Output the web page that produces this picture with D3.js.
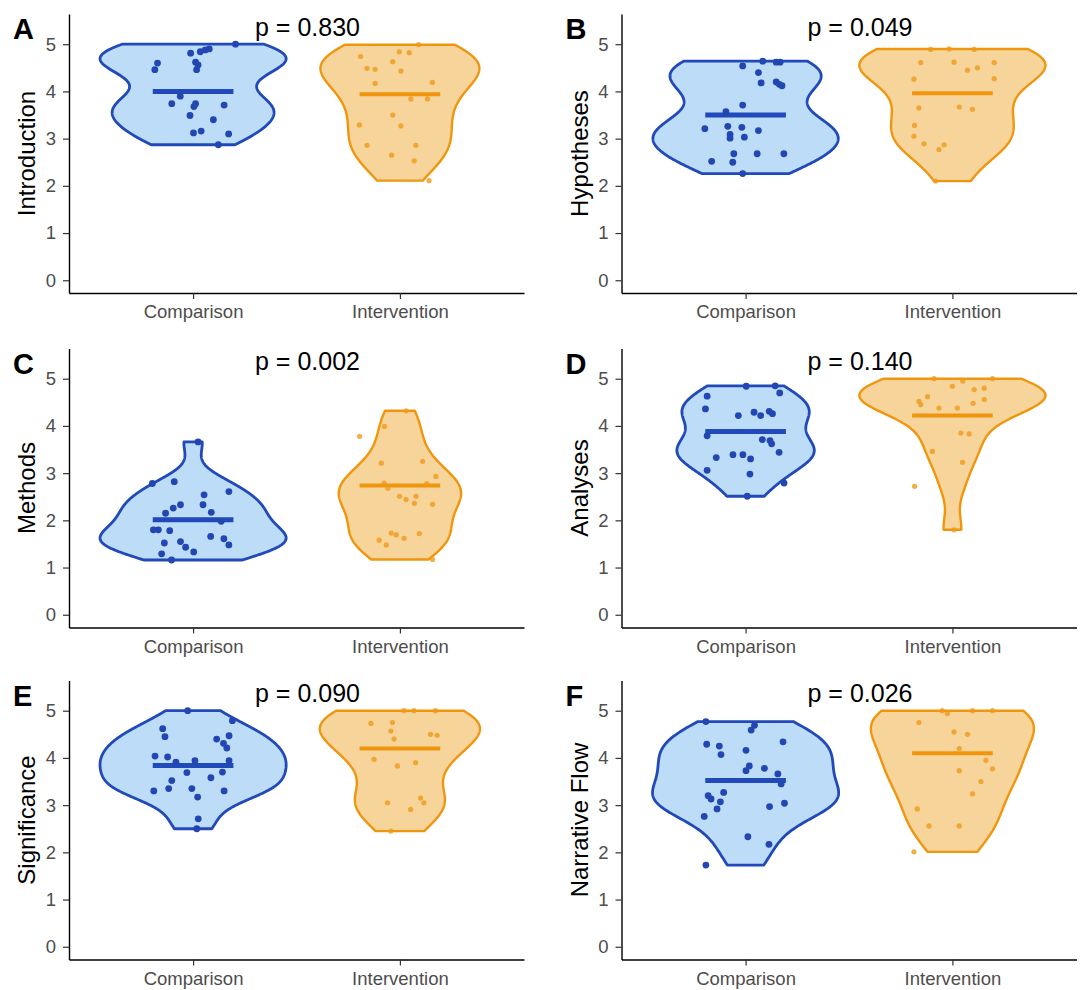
<!DOCTYPE html>
<html>
<head>
<meta charset="utf-8">
<script src="https://cdn.jsdelivr.net/npm/d3@7"></script>
<style>
  body { margin: 0; background: #fff; }
  svg { display: block; font-family: 'Liberation Sans', Arial, sans-serif; }
</style>
</head>
<body>
<svg id="chart" width="1084" height="990"></svg>
<script>
// groups and panels
const groups = ['Comparison', 'Intervention']
const panelLetters = ['A', 'B', 'C', 'D', 'E', 'F']
const measures = ['Introduction', 'Hypotheses', 'Methods', 'Analyses', 'Significance', 'Narrative Flow']
const pValues = ['0.830', '0.049', '0.002', '0.140', '0.090', '0.026']
const yTicks = [0, 1, 2, 3, 4, 5]
const scoreMax = 5
// horizontal bar per panel: [Comparison, Intervention]
const barValues = [[4.00, 3.94], [3.50, 3.96], [2.01, 2.74], [3.88, 4.22], [3.84, 4.20], [3.52, 4.10]]

// points: [horizontal jitter (in category steps), score]
const introComparison = [[-0.012, 4.81], [0.035, 4.84], [0.059, 4.88], [0.078, 4.90], [0.205, 5.00], [-0.172, 4.60], [-0.185, 4.46], [0.012, 4.62], [0.024, 4.56], [0.017, 4.46], [-0.062, 3.90], [-0.103, 3.74], [0.012, 3.74], [0.004, 3.68], [0.150, 3.71], [-0.015, 3.49], [0.098, 3.40], [0.002, 3.12], [0.039, 3.16], [0.172, 3.10], [0.122, 2.87]]
const introIntervention = [[0.09, 4.99], [-0.19, 4.74], [-0.003, 4.84], [0.045, 4.82], [-0.159, 4.49], [-0.12, 4.47], [-0.035, 4.63], [0.005, 4.43], [-0.12, 4.17], [0.157, 4.19], [0.053, 3.84], [0.133, 3.84], [-0.035, 3.50], [-0.196, 3.29], [0.005, 3.27], [-0.159, 2.86], [0.077, 2.86], [-0.04, 2.65], [0.069, 2.53], [0.141, 2.11]]
const hypoComparison = [[-0.014, 4.54], [0.083, 4.64], [0.148, 4.62], [0.167, 4.62], [0.062, 4.40], [0.075, 4.18], [0.148, 4.20], [0.163, 4.15], [0.176, 4.12], [-0.014, 3.71], [-0.095, 3.57], [-0.197, 3.21], [-0.086, 3.26], [-0.018, 3.24], [0.062, 3.17], [-0.075, 3.09], [-0.075, 3.01], [-0.006, 3.03], [-0.164, 2.52], [-0.062, 2.50], [-0.057, 2.68], [0.056, 2.68], [0.185, 2.68], [-0.014, 2.26]]
const hypoIntervention = [[-0.153, 4.61], [0.008, 4.62], [0.073, 4.45], [0.121, 4.50], [0.202, 4.61], [-0.186, 4.26], [0.202, 4.27], [-0.162, 3.65], [0.033, 3.67], [0.097, 3.62], [-0.183, 3.28], [-0.186, 3.05], [-0.137, 2.89], [-0.065, 2.77], [-0.040, 2.87], [-0.105, 4.89], [-0.016, 4.90], [0.105, 4.89], [-0.081, 2.10]]
const methodsComparison = [[0.024, 3.66], [-0.197, 2.78], [-0.091, 2.82], [0.173, 2.61], [0.053, 2.54], [0.048, 2.33], [-0.096, 2.26], [-0.061, 2.33], [-0.133, 2.15], [0.088, 2.17], [-0.192, 1.80], [-0.168, 1.80], [-0.113, 1.78], [0.136, 1.98], [0.085, 1.66], [0.149, 1.61], [-0.139, 1.52], [-0.061, 1.55], [-0.036, 1.43], [0.173, 1.48], [0.003, 1.33], [-0.152, 1.29], [-0.104, 1.16]]
const methodsIntervention = [[0.03, 4.32], [-0.075, 3.99], [-0.195, 3.78], [-0.090, 3.21], [0.110, 3.25], [0.174, 2.93], [-0.076, 2.79], [-0.058, 2.68], [0.13, 2.78], [-0.002, 2.51], [0.030, 2.44], [0.078, 2.51], [0.070, 2.36], [0.158, 2.34], [-0.042, 1.73], [-0.018, 1.69], [0.094, 1.72], [0.02, 1.62], [-0.10, 1.58], [-0.066, 1.48], [0.158, 1.17]]
const analysesComparison = [[-0.186, 4.63], [-0.194, 4.36], [0.003, 4.84], [0.143, 4.85], [0.165, 4.70], [-0.035, 4.22], [0.041, 4.29], [0.073, 4.22], [0.114, 4.31], [0.130, 4.26], [-0.186, 3.79], [0.081, 3.71], [0.118, 3.69], [0.126, 3.62], [0.162, 3.44], [-0.142, 3.33], [-0.061, 3.39], [-0.013, 3.39], [0.024, 3.30], [-0.186, 3.06], [0.021, 2.98], [0.186, 2.79], [0.008, 2.51]]
const analysesIntervention = [[-0.089, 5.00], [0.194, 5.00], [0.000, 4.84], [0.105, 4.77], [0.154, 4.80], [-0.162, 4.52], [-0.153, 4.45], [-0.065, 4.38], [0.024, 4.38], [0.154, 4.56], [0.05, 4.95], [-0.12, 4.62], [0.10, 4.48], [0.041, 3.85], [0.081, 3.83], [-0.097, 3.46], [0.049, 3.23], [-0.183, 2.72], [0.008, 1.80]]
const signifComparison = [[-0.026, 5.00], [0.190, 4.79], [-0.147, 4.62], [-0.136, 4.45], [0.114, 4.40], [0.174, 4.47], [0.147, 4.31], [0.163, 4.21], [-0.184, 4.04], [-0.123, 4.02], [-0.083, 3.91], [0.009, 3.94], [0.174, 3.94], [-0.030, 3.69], [0.086, 3.58], [0.142, 3.70], [-0.103, 3.52], [-0.190, 3.30], [-0.118, 3.35], [-0.006, 3.35], [0.150, 3.30], [0.022, 3.17], [0.025, 2.71], [0.018, 2.50]]
const signifIntervention = [[0.020, 5.00], [0.068, 5.00], [0.172, 5.00], [-0.140, 4.73], [-0.036, 4.75], [-0.044, 4.57], [-0.028, 4.40], [0.148, 4.50], [0.180, 4.48], [-0.125, 3.97], [-0.012, 3.83], [0.076, 3.90], [-0.060, 3.05], [0.052, 2.91], [0.116, 3.05], [0.10, 3.15], [-0.044, 2.45]]
const flowComparison = [[-0.192, 1.73], [0.011, 2.33], [0.113, 2.17], [-0.200, 2.76], [-0.138, 2.92], [-0.122, 3.07], [-0.181, 3.20], [-0.167, 3.13], [-0.106, 3.27], [0.116, 2.97], [0.188, 3.04], [0.002, 3.73], [0.018, 3.83], [0.091, 3.78], [0.156, 3.66], [0.172, 3.45], [0.002, 4.16], [-0.127, 4.25], [-0.119, 4.07], [-0.188, 4.29], [0.181, 4.34], [0.027, 4.59], [0.043, 4.69], [-0.192, 4.77]]
const flowIntervention = [[-0.049, 5.00], [0.097, 5.00], [0.194, 5.00], [-0.024, 4.94], [-0.162, 4.75], [0.008, 4.55], [0.073, 4.50], [0.033, 4.20], [0.162, 3.95], [0.194, 3.77], [0.033, 3.73], [0.138, 3.50], [0.097, 3.24], [-0.170, 2.92], [-0.113, 2.56], [0.033, 2.56], [-0.186, 2.01]]

const panelPoints = [
  [introComparison, introIntervention],
  [hypoComparison, hypoIntervention],
  [methodsComparison, methodsIntervention],
  [analysesComparison, analysesIntervention],
  [signifComparison, signifIntervention],
  [flowComparison, flowIntervention]
]

// layout
const colX0 = [69, 621.5]
const rowBottom = [293, 627.5, 959.5]
const plotW = 455
const plotH = 279
const styles = {
  Comparison: { stroke: '#2149b9', fill: '#bcdcf8', dot: '#2247b2', r: 3.4, barW: 5, lineW: 2.8 },
  Intervention: { stroke: '#f0960e', fill: '#f6d49a', dot: '#f09a1a', r: 2.6, barW: 4, lineW: 2.4 }
}

// gaussian kernel density, bandwidth like R's bw.nrd0
function bwNrd0 (values) {
  const s = values.slice().sort(d3.ascending)
  const sd = d3.deviation(s)
  const iqr = d3.quantile(s, 0.75) - d3.quantile(s, 0.25)
  const lo = Math.min(sd, iqr / 1.34) || sd
  return 0.9 * lo * Math.pow(s.length, -0.2)
}
function density (values) {
  const bw = bwNrd0(values)
  const lo = d3.min(values)
  const hi = Math.min(d3.max(values), scoreMax)
  return d3.range(200).map(i => {
    const v = lo + (hi - lo) * i / 199
    const d = d3.mean(values, s => Math.exp(-0.5 * ((v - s) / bw) ** 2)) / (bw * Math.sqrt(2 * Math.PI))
    return [v, d]
  })
}

const svg = d3.select('#chart')

panelLetters.forEach((letter, i) => {
  const col = i % 2
  const row = Math.floor(i / 2)
  const x0 = colX0[col]
  const bottom = rowBottom[row]
  const top = bottom - plotH
  const x = d3.scalePoint().domain(groups).range([x0, x0 + plotW]).padding(0.6)
  const y = d3.scaleLinear().domain([-0.27, 5.64]).range([bottom, top])
  const step = x.step()
  const g = svg.append('g').attr('class', 'panel')

  // violins
  const dens = panelPoints[i].map(pts => density(pts.map(p => p[1])))
  const maxD = d3.max(dens, ds => d3.max(ds, d => d[1]))
  const w = d3.scaleLinear().domain([0, maxD]).range([0, 0.45 * step])
  groups.forEach((grp, k) => {
    const cx = x(grp)
    const st = styles[grp]
    const area = d3.area()
      .y(d => y(d[0]))
      .x0(d => cx - w(d[1]))
      .x1(d => cx + w(d[1]))
      .curve(d3.curveLinear)
    g.append('path')
      .datum(dens[k])
      .attr('d', area)
      .attr('fill', st.fill)
      .attr('stroke', st.stroke)
      .attr('stroke-width', st.lineW)
      .attr('stroke-linejoin', 'round')
    // summary bar
    g.append('line')
      .attr('x1', cx - 0.195 * step)
      .attr('x2', cx + 0.195 * step)
      .attr('y1', y(barValues[i][k]))
      .attr('y2', y(barValues[i][k]))
      .attr('stroke', st.stroke)
      .attr('stroke-width', st.barW)
    // jittered points
    g.append('g').selectAll('circle')
      .data(panelPoints[i][k])
      .join('circle')
      .attr('cx', d => cx + d[0] * step)
      .attr('cy', d => y(d[1]))
      .attr('r', st.r)
      .attr('fill', st.dot)
      .attr('fill-opacity', grp === 'Intervention' ? 0.8 : 1)
  })

  // axes
  const yAxis = d3.axisLeft(y).tickValues(yTicks).tickSize(6).tickSizeOuter(0).tickPadding(7).tickFormat(d3.format('d'))
  const xAxis = d3.axisBottom(x).tickSize(6).tickSizeOuter(0).tickPadding(6)
  const ya = g.append('g').attr('transform', `translate(${x0},0)`).call(yAxis)
  const xa = g.append('g').attr('transform', `translate(0,${bottom})`).call(xAxis)
  ;[ya, xa].forEach(a => {
    a.select('.domain').attr('stroke', '#000').attr('stroke-width', 1.4)
    a.selectAll('.tick line').attr('stroke', '#333').attr('stroke-width', 1.2)
    a.selectAll('.tick text')
      .attr('fill', '#4d4d4d')
      .style('font-size', '18.5px')
      .style('font-family', "'Liberation Sans', Arial, sans-serif")
  })

  // y title
  g.append('text')
    .attr('transform', `translate(${x0 - 34},${(top + bottom) / 2}) rotate(-90)`)
    .attr('text-anchor', 'middle')
    .attr('font-size', 24)
    .attr('fill', '#000')
    .text(measures[i])

  // p value
  g.append('text')
    .attr('x', (x(groups[0]) + x(groups[1])) / 2 + 11)
    .attr('y', y(5.18))
    .attr('text-anchor', 'middle')
    .attr('font-size', 25)
    .attr('fill', '#000')
    .text(`p = ${pValues[i]}`)

  // panel letter
  g.append('text')
    .attr('x', x0 - 56)
    .attr('y', top + 25)
    .attr('font-size', 29)
    .attr('font-weight', 'bold')
    .attr('fill', '#000')
    .text(letter)
})
</script>
</body>
</html>
